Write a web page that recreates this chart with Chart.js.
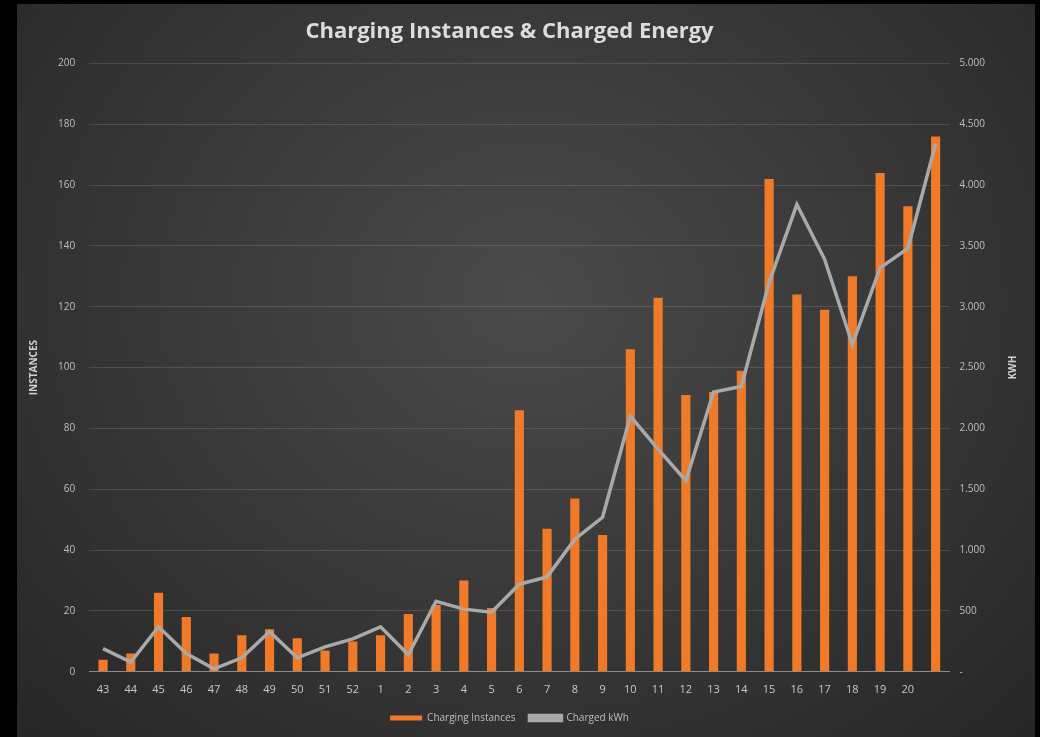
<!DOCTYPE html>
<html>
<head>
<meta charset="utf-8">
<script src="https://cdn.jsdelivr.net/npm/chart.js@4"></script>
<style>
  html, body { margin: 0; padding: 0; background: #000; }
  #frame {
    position: absolute;
    left: 17px; top: 4px;
    width: 1018px; height: 733px;
    background: radial-gradient(ellipse at 50% 40%, #4a4a4a 0%, #3a3a3a 45%, #262626 100%);
  }
  #chart { display: block; }
</style>
</head>
<body>
<div id="frame"><canvas id="chart" width="1018" height="733"></canvas></div>
<script>
const weeks = ["43", "44", "45", "46", "47", "48", "49", "50", "51", "52",
  "1", "2", "3", "4", "5", "6", "7", "8", "9", "10",
  "11", "12", "13", "14", "15", "16", "17", "18", "19", "20", ""];

const instances = [4, 6, 26, 18, 6, 12, 14, 11, 7, 10,
  12, 19, 22, 30, 21, 86, 47, 57, 45, 106,
  123, 91, 92, 99, 162, 124, 119, 130, 164, 153, 176];

const kwh = [190, 80, 370, 150, 25, 115, 330, 115, 205, 270,
  370, 140, 580, 515, 490, 720, 780, 1090, 1270, 2100,
  1830, 1570, 2300, 2345, 3200, 3840, 3390, 2690, 3320, 3480, 4340];

const leftTicks = [0, 20, 40, 60, 80, 100, 120, 140, 160, 180, 200];

function kwhLabel(v) {
  if (v === 0) return "-";
  return String(v).replace(/\B(?=(\d{3})+(?!\d))/g, ".");
}

const fontFamily = "'Open Sans', sans-serif";
const tickFont = { family: fontFamily, size: 10 };

// right axis title reads bottom-to-top like the left one
const rightTitle = {
  id: "rightTitle",
  afterDraw(chart) {
    const c = chart.ctx;
    const area = chart.chartArea;
    c.save();
    c.translate(996, (area.top + area.bottom) / 2);
    c.rotate(-Math.PI / 2);
    c.fillStyle = "#d0d0d0";
    c.font = "bold 10px " + fontFamily;
    c.textAlign = "center";
    c.textBaseline = "middle";
    c.fillText("KWH", 0, 0);
    c.restore();
  }
};

const ctx = document.getElementById("chart").getContext("2d");

new Chart(ctx, {
  data: {
    labels: weeks,
    datasets: [
      {
        type: "bar",
        label: "Charging Instances",
        data: instances,
        yAxisID: "y",
        backgroundColor: "#f07a28",
        borderWidth: 0,
        barPercentage: 0.33,
        categoryPercentage: 1,
        order: 2
      },
      {
        type: "line",
        label: "Charged kWh",
        data: kwh,
        yAxisID: "y1",
        borderColor: "#a9a9a9",
        backgroundColor: "#a9a9a9",
        borderWidth: 3.5,
        pointRadius: 0,
        tension: 0,
        order: 1
      }
    ]
  },
  options: {
    responsive: false,
    animation: false,
    layout: {
      padding: { left: 7, right: 40, top: 4, bottom: 4 }
    },
    plugins: {
      title: {
        display: true,
        text: "Charging Instances & Charged Energy",
        color: "#dcdcdc",
        font: { family: fontFamily, size: 22, weight: "bold" },
        padding: { top: 11, bottom: 18 }
      },
      legend: {
        position: "bottom",
        labels: {
          sort: (a, b) => a.datasetIndex - b.datasetIndex,
          color: "#bfbfbf",
          font: { family: fontFamily, size: 10 },
          boxWidth: 32,
          boxHeight: 5,
          padding: 14
        }
      },
      tooltip: { enabled: false }
    },
    scales: {
      x: {
        grid: { display: false },
        border: { color: "#8c8c8c", width: 1 },
        ticks: { color: "#c8c8c8", font: { family: fontFamily, size: 11 }, maxRotation: 0, autoSkip: false }
      },
      y: {
        position: "left",
        min: 0,
        max: 200,
        afterBuildTicks: axis => { axis.ticks = leftTicks.map(v => ({ value: v })); },
        grid: { color: "rgba(255,255,255,0.13)", drawTicks: false },
        border: { display: false },
        ticks: { color: "#bfbfbf", font: tickFont, padding: 14 },
        title: {
          display: true,
          text: "INSTANCES",
          color: "#d0d0d0",
          font: { family: fontFamily, size: 10, weight: "bold" },
          padding: { bottom: 4 }
        }
      },
      y1: {
        position: "right",
        min: 0,
        max: 5000,
        ticks: {
          stepSize: 500,
          color: "#bfbfbf",
          font: tickFont,
          padding: 10,
          callback: v => kwhLabel(v)
        },
        grid: { display: false, drawTicks: false },
        border: { display: false }
      }
    }
  },
  plugins: [rightTitle]
});
</script>
</body>
</html>
